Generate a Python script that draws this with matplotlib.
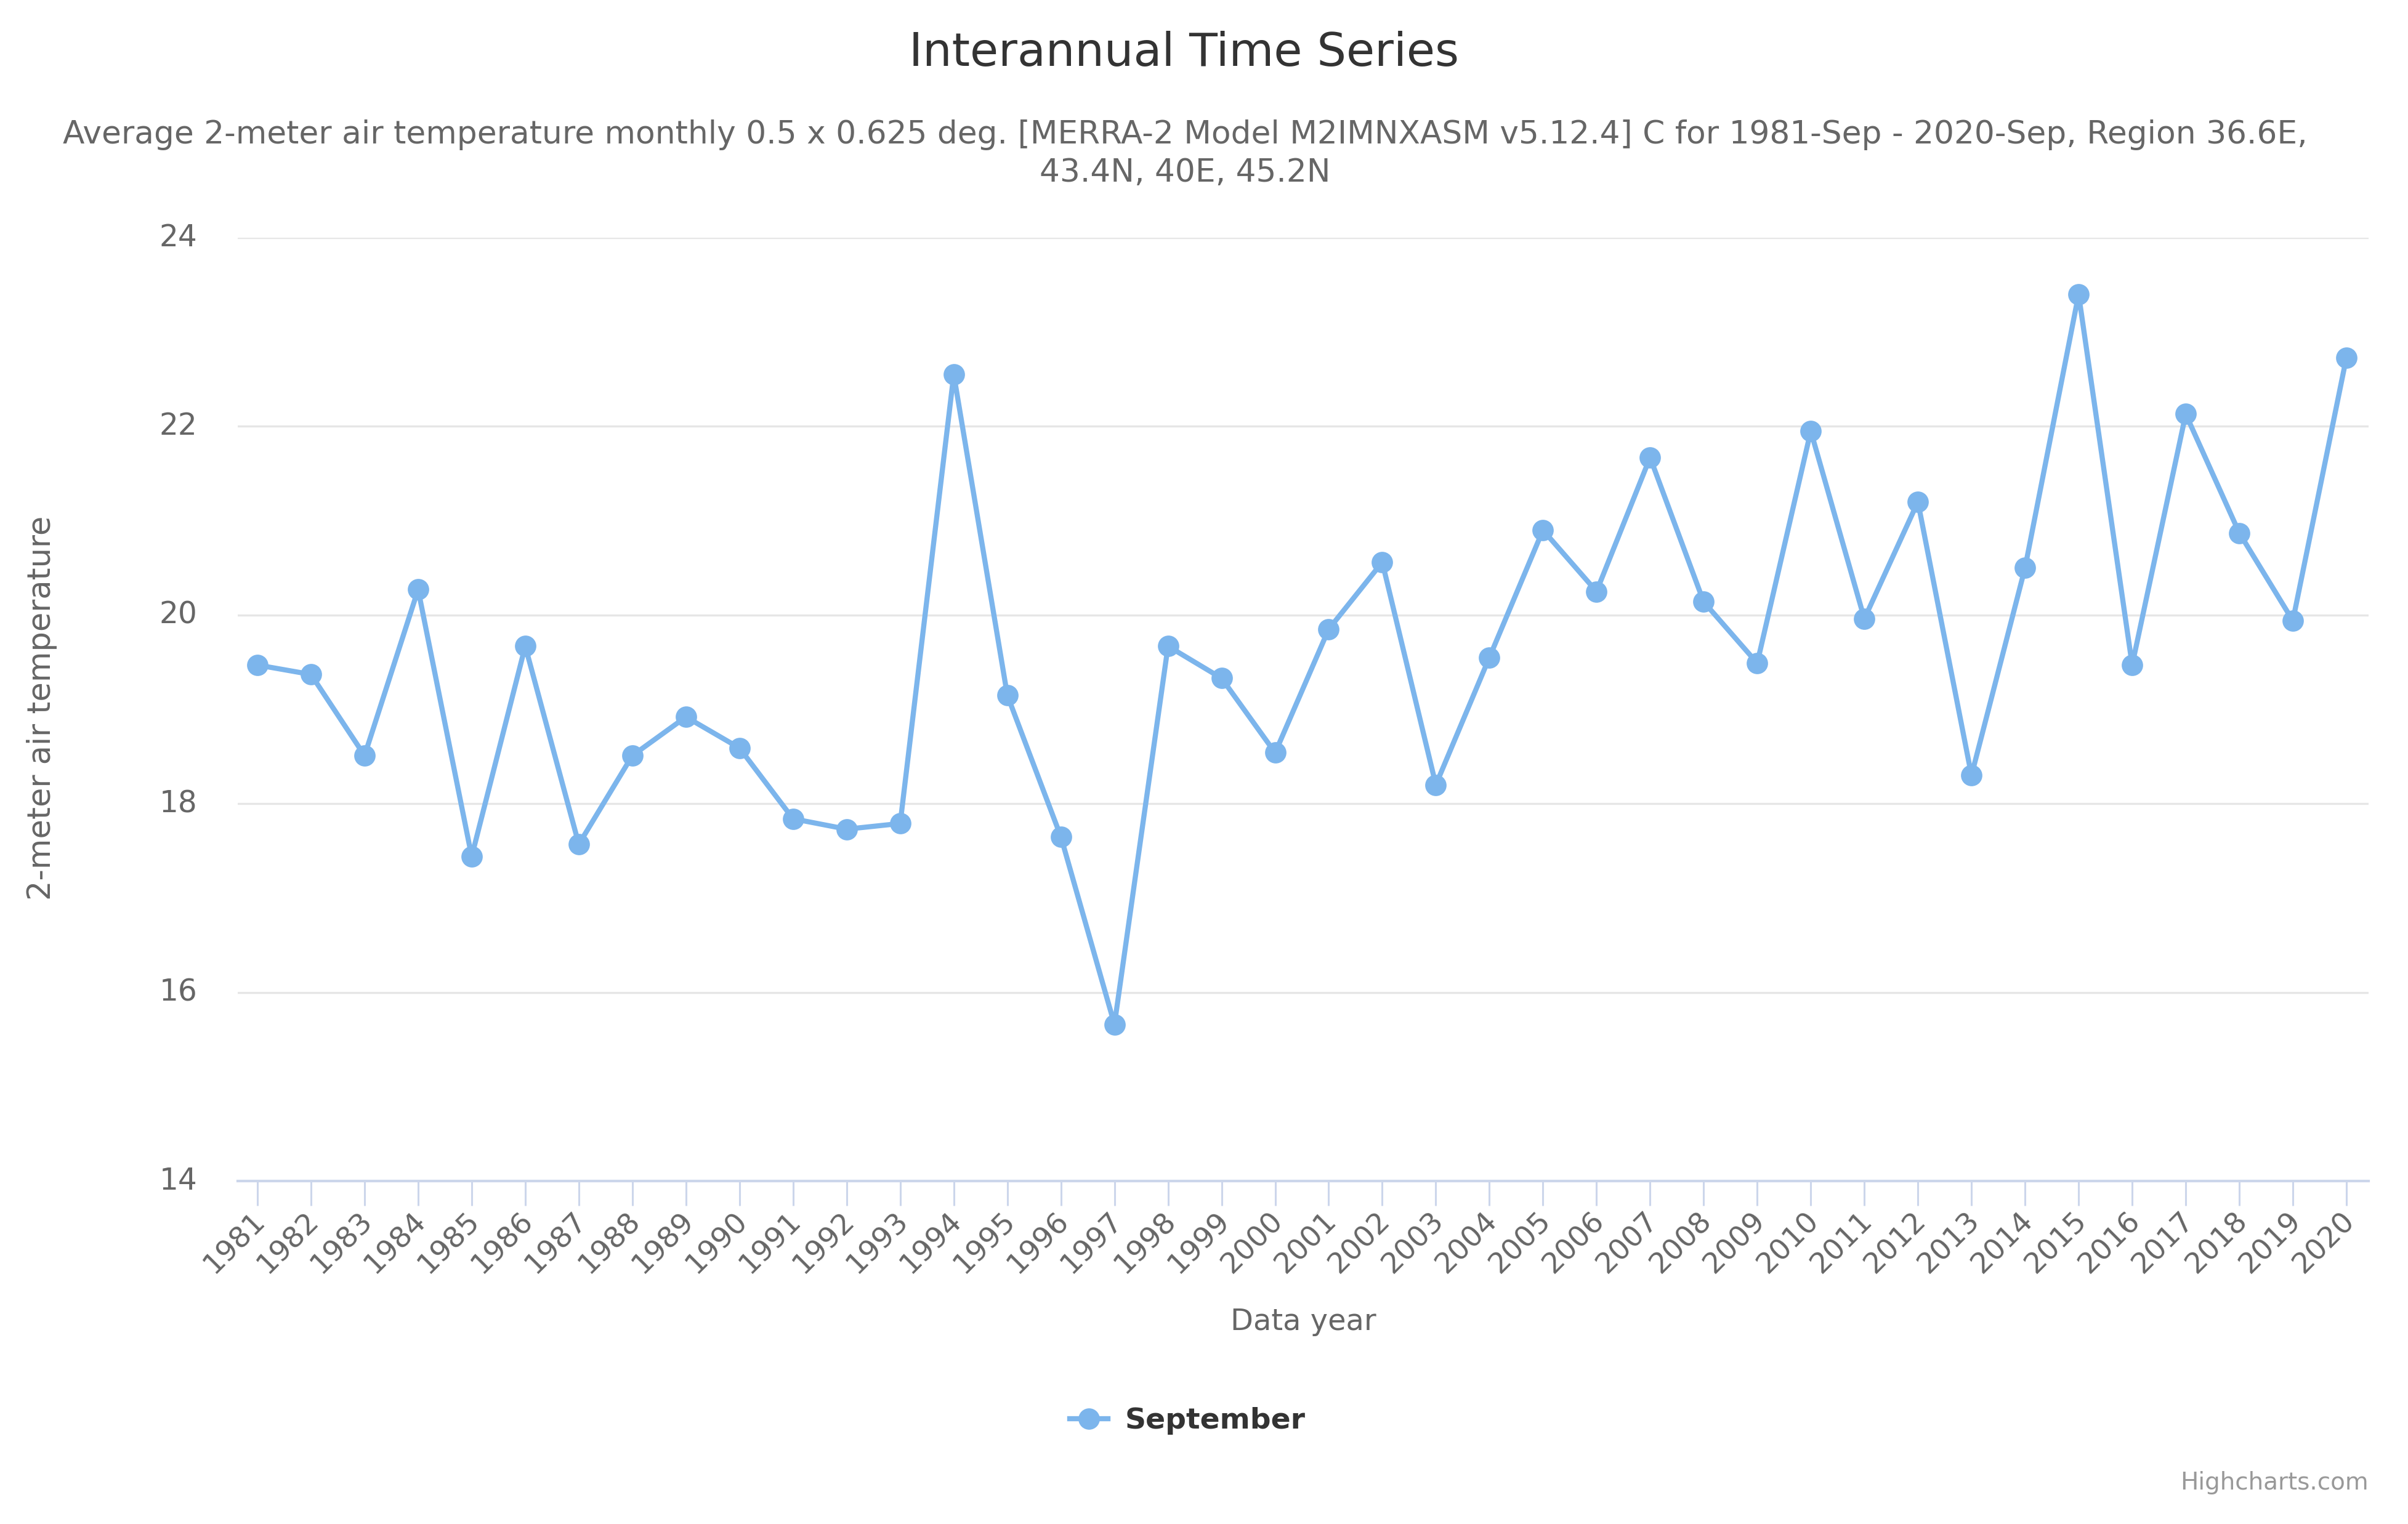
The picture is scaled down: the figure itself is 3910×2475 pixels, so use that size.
import matplotlib
matplotlib.use("Agg")
import matplotlib.pyplot as plt
from matplotlib.transforms import ScaledTranslation

years = list(range(1981, 2021))
september = [19.47, 19.37, 18.51, 20.27, 17.44, 19.67, 17.57, 18.51, 18.92, 18.59,
             17.84, 17.73, 17.79, 22.55, 19.15, 17.65, 15.66, 19.67, 19.33, 18.54,
             19.85, 20.56, 18.20, 19.55, 20.90, 20.25, 21.67, 20.14, 19.49, 21.95,
             19.96, 21.20, 18.30, 20.50, 23.40, 19.47, 22.13, 20.87, 19.94, 22.73]
y_ticks = [14, 16, 18, 20, 22, 24]

title = "Interannual Time Series"
subtitle = ("Average 2-meter air temperature monthly 0.5 x 0.625 deg. [MERRA-2 Model M2IMNXASM v5.12.4] "
            "C for 1981-Sep - 2020-Sep, Region 36.6E,\n43.4N, 40E, 45.2N")

W, H = 3910, 2475
plt.rcParams['font.family'] = ['DejaVu Sans']
fig = plt.figure(figsize=(W / 100, H / 100), dpi=100, facecolor='white')
ax = fig.add_axes([386 / W, 1 - 1918 / H, (3846 - 386) / W, (1918 - 386) / H])

LINE = '#7cb5ec'
ax.plot(years, september, color=LINE, lw=6, marker='o', ms=25, mew=0,
        solid_joinstyle='round', zorder=3, clip_on=False, label='September')

ax.set_xlim(1981 - 32 / 87, 2020 + 36 / 87)
ax.set_ylim(14, 24)
ax.set_yticks(y_ticks)
ax.set_xticks(years)
ax.set_xticklabels([str(y) for y in years], rotation=45, ha='right', rotation_mode='anchor',
                   fontsize=34, color='#666666')
ax.tick_params(axis='x', length=29, width=2.2, color='#ccd6eb', pad=1)
ax.tick_params(axis='y', length=0, labelsize=35, labelcolor='#666666', pad=47)
xshift = ScaledTranslation(-10 / 100, 0, fig.dpi_scale_trans)
for lab in ax.get_xticklabels():
    lab.set_transform(lab.get_transform() + xshift)
yshift = ScaledTranslation(0, 5 / 100, fig.dpi_scale_trans)
for lab in ax.get_yticklabels():
    lab.set_transform(lab.get_transform() + yshift)
ax.grid(axis='y', color='#e6e6e6', lw=2.4, zorder=0)
ax.set_axisbelow(True)
for s in ['top', 'right', 'left']:
    ax.spines[s].set_visible(False)
ax.spines['bottom'].set_color('#ccd6eb')
ax.spines['bottom'].set_linewidth(3)

fig.text(1922 / W, 1 - 86 / H, title, ha='center', va='center', fontsize=54, color='#333333')
fig.text(1924 / W, 1 - 250 / H, subtitle, ha='center', va='center', fontsize=37.3, color='#666666',
         linespacing=1.33)
fig.text(68 / W, 1 - 1150 / H, "2-meter air temperature", rotation=90, ha='center', va='center',
         fontsize=36.7, color='#666666')
fig.text(2116 / W, 1 - 2147 / H, "Data year", ha='center', va='center', fontsize=34.5, color='#666666')

leg = ax.legend(loc='center', bbox_to_anchor=(1928 / W, 1 - 2308 / H), bbox_transform=fig.transFigure,
                frameon=False, prop={'size': 34, 'weight': 'bold'}, labelcolor='#333333',
                handlelength=1.31, handletextpad=0.58)
fig.text(3846 / W, 1 - 2408 / H, "Highcharts.com", ha='right', va='center', fontsize=28, color='#999999')

fig.savefig('out.png', dpi=100, facecolor='white')
